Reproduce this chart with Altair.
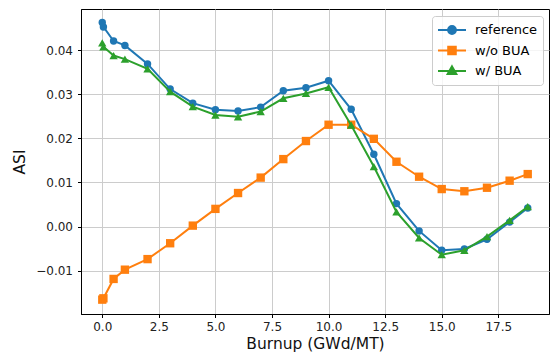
import altair as alt
import pandas as pd

burnup = [0, 0.05, 0.5, 1, 2, 3, 4, 5, 6, 7, 8, 9, 10, 11, 12, 13, 14, 15, 16, 17, 18, 18.8]
reference = [0.0463, 0.0453, 0.0421, 0.0411, 0.0369, 0.0312, 0.0280, 0.0265, 0.0262, 0.0271,
             0.0308, 0.0315, 0.0331, 0.0266, 0.0164, 0.0052, -0.0010, -0.0054, -0.0051, -0.0029,
             0.0010, 0.0042]
wo_bua = [-0.0166, -0.0163, -0.0119, -0.0098, -0.0074, -0.0038, 0.0002, 0.0040, 0.0076, 0.0111,
          0.0153, 0.0194, 0.0231, 0.0231, 0.0199, 0.0147, 0.0113, 0.0085, 0.0080, 0.0088,
          0.0104, 0.0119]
w_bua = [0.0417, 0.0408, 0.0388, 0.0380, 0.0358, 0.0306, 0.0272, 0.0253, 0.0249, 0.0261,
         0.0291, 0.0302, 0.0316, 0.0230, 0.0136, 0.0033, -0.0026, -0.0064, -0.0054, -0.0023,
         0.0014, 0.0045]

series_names = ["reference", "w/o BUA", "w/ BUA"]
series_values = [reference, wo_bua, w_bua]
colors = ["#1f77b4", "#ff7f0e", "#2ca02c"]
shapes = ["circle", "square", "triangle-up"]
sizes = [55, 70, 70]

legend_paths = [
    "M-1,0L1,0M-0.28,0A0.28,0.28 0 1 0 0.28,0A0.28,0.28 0 1 0 -0.28,0Z",
    "M-1,0L1,0M-0.27,-0.27L0.27,-0.27L0.27,0.27L-0.27,0.27Z",
    "M-1,0L1,0M0,-0.33L0.31,0.21L-0.31,0.21Z",
]

rows = []
for name, vals in zip(series_names, series_values):
    for xv, yv in zip(burnup, vals):
        rows.append({"x": xv, "y": yv, "series": name})
df = pd.DataFrame(rows)

xscale = alt.Scale(domain=[-0.94, 19.74], nice=False, zero=False)
yscale = alt.Scale(domain=[-0.01986, 0.04937], nice=False, zero=False)

xaxis = alt.Axis(title="Burnup (GWd/MT)", values=[0, 2.5, 5, 7.5, 10, 12.5, 15, 17.5], format=".1f")
yaxis = alt.Axis(title="ASI", values=[-0.01, 0, 0.01, 0.02, 0.03, 0.04], format=".2f")

layers = []
for name, col, shp, sz in zip(series_names, colors, shapes, sizes):
    base = alt.Chart(df).transform_filter(alt.datum.series == name)
    line = base.mark_line(color=col, strokeWidth=2).encode(
        x=alt.X("x:Q", scale=xscale, axis=xaxis),
        y=alt.Y("y:Q", scale=yscale, axis=yaxis),
    )
    pts = base.mark_point(color=col, filled=True, opacity=1, shape=shp, size=sz).encode(
        x=alt.X("x:Q", scale=xscale, axis=xaxis),
        y=alt.Y("y:Q", scale=yscale, axis=yaxis),
    )
    layers += [line, pts]

leg = alt.Legend(
    title=None, orient="none", legendX=351, legendY=7,
    symbolSize=784, symbolStrokeWidth=2, symbolOpacity=1,
    labelFont="DejaVu Sans", labelFontSize=13, labelColor="black", labelOffset=8,
    padding=5, clipHeight=18, rowPadding=2.5,
    fillColor="rgba(255,255,255,0.8)", strokeColor="#cccccc", cornerRadius=3,
)
legend_layer = alt.Chart(df).mark_point(opacity=0, filled=True).encode(
    x=alt.X("x:Q", scale=xscale, axis=xaxis),
    y=alt.Y("y:Q", scale=yscale, axis=yaxis),
    fill=alt.Fill("series:N", scale=alt.Scale(domain=series_names, range=colors), legend=leg),
    stroke=alt.Stroke("series:N", scale=alt.Scale(domain=series_names, range=colors), legend=leg),
    shape=alt.Shape("series:N", scale=alt.Scale(domain=series_names, range=legend_paths), legend=leg),
)

chart = alt.layer(*layers, legend_layer).properties(
    width=468, height=305,
    autosize=alt.AutoSizeParams(type="none"),
    padding={"left": 81, "top": 9, "right": 1, "bottom": 45},
).configure_view(
    stroke="black", strokeWidth=1
).configure_axis(
    labelFont="DejaVu Sans", labelFontSize=12, labelColor="#222222",
    titleFont="DejaVu Sans", titleFontSize=15.5, titleFontWeight="normal", titleColor="#111111",
    domainColor="black", domainWidth=1, tickColor="black", tickSize=3.5, tickWidth=1,
    gridColor="#cccccc", gridWidth=1, labelPadding=4,
).configure_axisX(
    titlePadding=4,
).configure_axisY(
    labelPadding=5, titlePadding=8,
)

chart.save("out.html", embed_options={"renderer": "svg", "actions": False})
